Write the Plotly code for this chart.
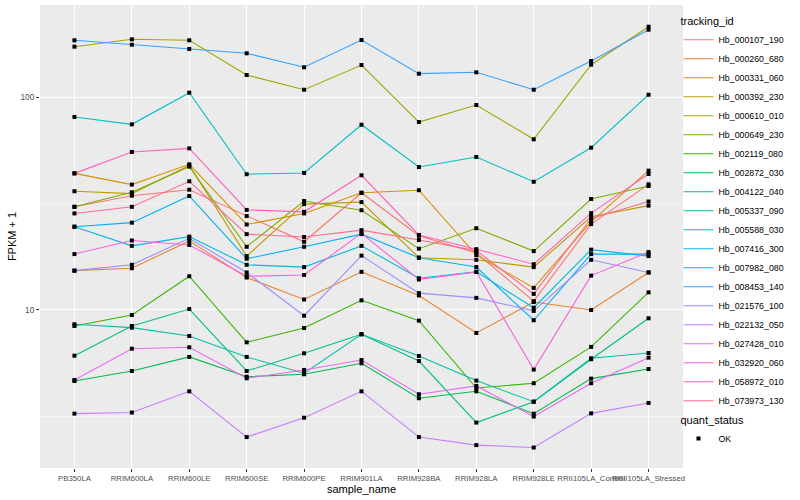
import plotly.graph_objects as go

samples = ["PB350LA", "RRIM600LA", "RRIM600LE", "RRIM600SE", "RRIM600PE", "RRIM901LA",
           "RRIM928BA", "RRIM928LA", "RRIM928LE", "RRII105LA_Control", "RRII105LA_Stressed"]

tracking_ids = ["Hb_000107_190", "Hb_000260_680", "Hb_000331_060", "Hb_000392_230", "Hb_000610_010",
                "Hb_000649_230", "Hb_002119_080", "Hb_002872_030", "Hb_004122_040", "Hb_005337_090",
                "Hb_005588_030", "Hb_007416_300", "Hb_007982_080", "Hb_008453_140", "Hb_021576_100",
                "Hb_022132_050", "Hb_027428_010", "Hb_032920_060", "Hb_058972_010", "Hb_073973_130"]

hb_000107_190 = [30.5, 34.4, 36.7, 27.6, 20.9, 35.5, 22.3, 18.5, 11.0, 25.3, 38.9]
hb_000260_680 = [15.3, 15.7, 21.1, 14.2, 11.2, 15.1, 11.7, 7.8, 10.9, 10.0, 15.0]
hb_000331_060 = [43.8, 38.8, 48.3, 25.2, 28.4, 35.5, 36.5, 18.1, 12.7, 26.0, 45.1]
hb_000392_230 = [36.1, 35.2, 47.7, 17.9, 31.4, 32.1, 17.6, 17.2, 15.9, 27.4, 30.9]
hb_000610_010 = [172.3, 186.6, 184.6, 126.9, 108.2, 141.3, 76.3, 91.7, 63.3, 141.8, 213.8]
hb_000649_230 = [30.5, 35.7, 47.1, 19.8, 32.5, 29.4, 19.4, 24.2, 18.9, 33.2, 38.2]
hb_002119_080 = [8.41, 9.47, 14.4, 7.05, 8.23, 11.1, 8.91, 4.30, 4.53, 6.71, 12.1]
hb_002872_030 = [4.64, 5.17, 6.02, 4.86, 4.99, 5.62, 3.85, 4.15, 3.26, 4.76, 5.28]
hb_004122_040 = [6.10, 8.41, 10.1, 5.17, 6.26, 7.69, 5.76, 2.96, 3.71, 5.87, 9.14]
hb_005337_090 = [8.57, 8.26, 7.55, 6.02, 5.05, 7.69, 6.08, 4.66, 3.71, 5.93, 6.28]
hb_005588_030 = [80.6, 74.4, 104.8, 43.4, 44.0, 74.1, 46.9, 52.3, 40.0, 57.8, 102.5]
hb_007416_300 = [24.6, 20.0, 22.1, 16.3, 15.9, 20.0, 14.1, 15.1, 10.25, 19.2, 17.9]
hb_007982_080 = [24.6, 25.7, 34.3, 17.4, 19.8, 22.7, 17.6, 15.9, 8.95, 18.3, 18.3]
hb_008453_140 = [184.6, 176.0, 168.0, 160.4, 137.9, 185.2, 128.7, 130.6, 108.2, 147.6, 207.0]
hb_021576_100 = [15.3, 16.3, 21.7, 15.0, 9.4, 18.0, 12.0, 11.4, 9.9, 17.2, 15.0]
hb_022132_050 = [3.26, 3.30, 4.15, 2.53, 3.12, 4.15, 2.53, 2.32, 2.26, 3.27, 3.66]
hb_027428_010 = [4.69, 6.58, 6.68, 4.78, 5.23, 5.82, 4.02, 4.40, 3.16, 4.53, 5.97]
hb_032920_060 = [18.3, 21.2, 20.2, 14.4, 14.6, 22.9, 13.9, 15.1, 5.25, 14.5, 18.7]
hb_058972_010 = [43.8, 55.2, 57.4, 29.5, 28.9, 42.9, 22.5, 19.3, 16.4, 28.5, 43.5]
hb_073973_130 = [28.4, 30.5, 40.2, 22.7, 22.0, 23.7, 21.3, 19.0, 11.9, 26.9, 32.3]

series = [hb_000107_190, hb_000260_680, hb_000331_060, hb_000392_230, hb_000610_010,
          hb_000649_230, hb_002119_080, hb_002872_030, hb_004122_040, hb_005337_090,
          hb_005588_030, hb_007416_300, hb_007982_080, hb_008453_140, hb_021576_100,
          hb_022132_050, hb_027428_010, hb_032920_060, hb_058972_010, hb_073973_130]

colors = ["#F8766D", "#EA8331", "#D89000", "#C09B00", "#A3A500", "#7CAE00", "#39B600", "#00BB4E",
          "#00BF7D", "#00C1A3", "#00BFC4", "#00BAE0", "#00B0F6", "#35A2FF", "#9590FF", "#C77CFF",
          "#E76BF3", "#FA62DB", "#FF62BC", "#FF6C91"]

y_ticks = [10, 100]
y_minor = [10 ** 0.5, 10 ** 1.5, 10 ** 2.5]

FONT = "Liberation Sans, Arial, sans-serif"

fig = go.Figure()
for name, vals, col in zip(tracking_ids, series, colors):
    fig.add_trace(go.Scatter(x=samples, y=vals, mode="lines", name=name,
                             line=dict(color=col, width=1.1), legend="legend"))

all_x = [s for _ in series for s in samples]
all_y = [v for vals in series for v in vals]
fig.add_trace(go.Scatter(x=all_x, y=all_y, mode="markers", name="OK",
                         marker=dict(color="black", size=4, symbol="square"),
                         legend="legend2"))

fig.update_layout(
    width=800, height=500,
    margin=dict(l=40, r=117, t=5, b=32, autoexpand=False),
    paper_bgcolor="white", plot_bgcolor="#EBEBEB",
    font=dict(family=FONT, size=10, color="black"),
    xaxis=dict(type="category", categoryorder="array", categoryarray=samples,
               range=[-0.6, 10.6], showgrid=True, gridcolor="white", gridwidth=1.1,
               zeroline=False, ticks="outside", ticklen=3, tickcolor="#333333",
               tickangle=0, automargin=False, tickfont=dict(size=7.8, color="#4D4D4D"),
               title=dict(text="sample_name", font=dict(size=11), standoff=0)),
    yaxis=dict(type="log", range=[0.258, 2.432], tickvals=y_ticks, ticktext=["10", "100"],
               showgrid=True, gridcolor="white", gridwidth=1.1, zeroline=False,
               ticks="outside", ticklen=3, tickcolor="#333333", automargin=False,
               tickfont=dict(size=8.3, color="#4D4D4D"),
               minor=dict(tickmode="array", tickvals=y_minor, showgrid=True,
                          gridcolor="#F5F5F5", gridwidth=0.6, ticks=""),
               title=dict(text="FPKM + 1", font=dict(size=11), standoff=1)),
    legend=dict(title=dict(text="tracking_id", font=dict(size=11)), x=0.993, xanchor="left",
                y=0.987, yanchor="top", font=dict(size=8.8), bgcolor="rgba(0,0,0,0)",
                tracegroupgap=0, itemwidth=30),
    legend2=dict(title=dict(text="quant_status", font=dict(size=11)), x=0.993, xanchor="left",
                 y=0.126, yanchor="top", font=dict(size=8.8), bgcolor="rgba(0,0,0,0)"),
)

fig.write_html("out.html", config={"displayModeBar": False},
               post_script="document.body.style.margin='0';document.body.style.padding='0';")
